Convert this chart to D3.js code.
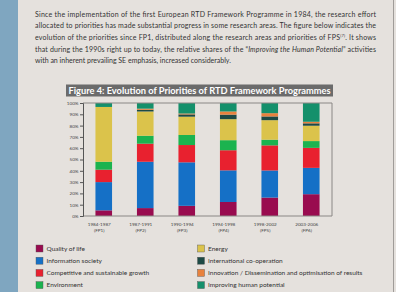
<!DOCTYPE html>
<html>
<head>
<meta charset="utf-8">
<script src="https://cdn.jsdelivr.net/npm/d3@7"></script>
<style>
  body { margin: 0; background: #e5e1dd; }
  svg { display: block; font-family: Lato, "Open Sans", sans-serif; }
</style>
</head>
<body>
<svg id="chart" width="396" height="292"></svg>
<script>
const periods = ["1984-1987", "1987-1991", "1990-1994", "1994-1998", "1998-2002", "2003-2006"];
const programmes = ["(FP1)", "(FP2)", "(FP3)", "(FP4)", "(FP5)", "(FP6)"];

const seriesNames = [
  "Quality of life",
  "Information society",
  "Competitive and sustainable growth",
  "Environment",
  "Energy",
  "International co-operation",
  "Innovation / Dissemination and optimisation of results",
  "Improving human potential"
];

// shares in % per programme, bottom to top
const qualityOfLife      = [5, 7, 9, 12.4, 16.3, 19.3];
const informationSociety = [25, 41, 38.5, 28, 24, 23.3];
const competitiveGrowth  = [11, 16, 15.3, 17.8, 22.2, 17.7];
const environment        = [7, 7, 8.9, 8.9, 5, 6];
const energy             = [48.5, 21.5, 16.2, 18.6, 17.3, 13.6];
const international      = [0, 1.5, 2, 4, 3.3, 2.1];
const innovation         = [0, 1, 0.8, 2.8, 2.9, 1.4];
const humanPotential     = [3.5, 5, 9.3, 7.5, 9, 16.6];

const yTicks = [0, 10, 20, 30, 40, 50, 60, 70, 80, 90, 100];

const colors = ["#990b4f", "#1570c6", "#e8212f", "#1bb34f", "#dbc34b", "#1d4a45", "#e8823d", "#14906b"];

const values = [qualityOfLife, informationSociety, competitiveGrowth, environment,
                energy, international, innovation, humanPotential];

const table = periods.map((p, i) => {
  const row = { period: p };
  seriesNames.forEach((s, j) => row[s] = values[j][i]);
  return row;
});

const svg = d3.select("#chart");

// left blue strip and right border
svg.append("rect").attr("x", 0).attr("y", 0).attr("width", 18).attr("height", 292).attr("fill", "#7fa6c0");
svg.append("line").attr("x1", 393.5).attr("x2", 393.5).attr("y1", 0).attr("y2", 292)
  .attr("stroke", "#a09c99").attr("stroke-width", 1);

// intro paragraph (justified lines)
const para = [
  { t: ["Since the implementation of the first European RTD Framework Programme in 1984, the research effort"], j: true },
  { t: ["allocated to priorities has made substantial progress in some research areas. The figure below indicates the"], j: true },
  { t: ["evolution of the priorities since FP1, distributed along the research areas and priorities of FPS", "sup:(7)", ". It shows"], j: true },
  { t: ["that during the 1990s right up to today, the relative shares of the \u201C", "it:Improving the Human Potential", "\u201D activities"], j: true },
  { t: ["with an inherent prevailing SE emphasis, increased considerably."], j: false }
];
para.forEach((line, i) => {
  const txt = svg.append("text")
    .attr("x", 35).attr("y", 16.5 + i * 11.7)
    .attr("font-size", 7).attr("fill", "#333");
  if (line.j) txt.attr("textLength", 341).attr("lengthAdjust", "spacing");
  line.t.forEach(part => {
    if (part.startsWith("sup:")) {
      txt.append("tspan").text(part.slice(4)).attr("font-size", 4).attr("dy", -2.5);
    } else if (part.startsWith("it:")) {
      txt.append("tspan").text(part.slice(3)).attr("font-style", "italic");
    } else {
      const ts = txt.append("tspan").text(part);
      if (i === 2 && part.startsWith(".")) ts.attr("dy", 2.5);
    }
  });
});

// title bar
svg.append("rect").attr("x", 66).attr("y", 84.5).attr("width", 267).attr("height", 12).attr("fill", "#6b6b6b");
svg.append("text").attr("x", 68.5).attr("y", 93.8)
  .attr("font-size", 8.6).attr("font-weight", "bold").attr("fill", "#fff")
  .attr("textLength", 262).attr("lengthAdjust", "spacingAndGlyphs")
  .text("Figure 4: Evolution of Priorities of RTD Framework Programmes");

// plot area
const x0 = 83, x1 = 332, yTop = 103, yBot = 216;
const x = d3.scaleBand().domain(periods).range([x0, x1]).paddingInner(0.6).paddingOuter(0.3);
const y = d3.scaleLinear().domain([0, 100]).range([yBot, yTop]);

const stack = d3.stack().keys(seriesNames)(table);

svg.append("g").selectAll("g").data(stack).join("g")
  .attr("fill", (d, i) => colors[i])
  .selectAll("rect").data(d => d).join("rect")
  .attr("x", d => x(d.data.period))
  .attr("width", x.bandwidth())
  .attr("y", d => y(d[1]))
  .attr("height", d => y(d[0]) - y(d[1]));

// frame
svg.append("path")
  .attr("d", `M${x0},${yTop}H${x1}V${yBot}H${x0}`)
  .attr("fill", "none").attr("stroke", "#8a8785").attr("stroke-width", 1);

// y axis
const yAxis = svg.append("g").attr("transform", `translate(${x0},0)`)
  .call(d3.axisLeft(y).tickValues(yTicks).tickSize(3).tickPadding(1.5).tickFormat(d => d + "%"));
yAxis.select(".domain").attr("stroke", "#555");
yAxis.selectAll(".tick line").attr("stroke", "#555");
yAxis.selectAll("text").attr("font-size", 4.6).attr("fill", "#444").attr("font-family", "Lato, sans-serif");

// x labels
const xl = svg.append("g");
periods.forEach((p, i) => {
  const cx = x(p) + x.bandwidth() / 2 - 4.5;
  xl.append("text").attr("x", cx).attr("y", 225.5).attr("text-anchor", "middle")
    .attr("font-size", 4.6).attr("fill", "#444").text(p);
  xl.append("text").attr("x", cx).attr("y", 231.5).attr("text-anchor", "middle")
    .attr("font-size", 4.6).attr("fill", "#444").text(programmes[i]);
});

// legend
const legend = svg.append("g");
seriesNames.forEach((s, i) => {
  const col = Math.floor(i / 4), row = i % 4;
  const lx = col === 0 ? 36 : 197.5;
  const ly = 248.5 + row * 12.2;
  legend.append("rect").attr("x", lx).attr("y", ly - 3.5).attr("width", 7).attr("height", 7)
    .attr("fill", colors[i]).attr("stroke", "#555").attr("stroke-width", 0.4);
  legend.append("text").attr("x", lx + 10.5).attr("y", ly + 2.3)
    .attr("font-size", 6.5).attr("fill", "#333").text(s);
});
</script>
</body>
</html>
